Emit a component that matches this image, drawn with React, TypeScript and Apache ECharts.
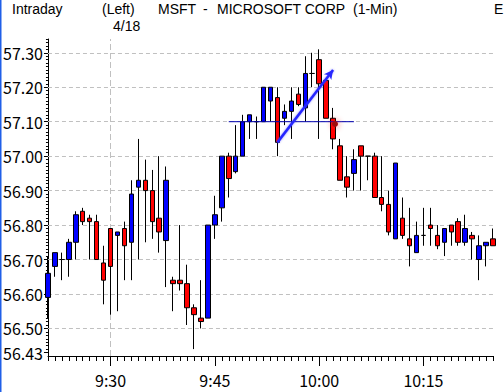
import React, { useEffect, useRef } from 'react';
import * as echarts from 'echarts';

const times = [
  '9:21', '9:22', '9:23', '9:24', '9:25', '9:26', '9:27', '9:28', '9:29', '9:30',
  '9:31', '9:32', '9:33', '9:34', '9:35', '9:36', '9:37', '9:38', '9:39', '9:40',
  '9:41', '9:42', '9:43', '9:44', '9:45', '9:46', '9:47', '9:48', '9:49', '9:50',
  '9:51', '9:52', '9:53', '9:54', '9:55', '9:56', '9:57', '9:58', '9:59', '10:00',
  '10:01', '10:02', '10:03', '10:04', '10:05', '10:06', '10:07', '10:08', '10:09', '10:10',
  '10:11', '10:12', '10:13', '10:14', '10:15', '10:16', '10:17', '10:18', '10:19', '10:20',
  '10:21', '10:22', '10:23', '10:24', '10:25',
];

const opens = [
  56.59, 56.68, 56.70, 56.70, 56.75, 56.84, 56.82, 56.81, 56.69, 56.79,
  56.77, 56.79, 56.75, 56.91, 56.93, 56.90, 56.82, 56.755, 56.64, 56.64,
  56.63, 56.56, 56.53, 56.53, 56.80, 56.85, 57.00, 56.955, 57.00, 57.10,
  57.10, 57.10, 57.16, 57.17, 57.11, 57.13, 57.18, 57.14, 57.24, 57.28,
  57.22, 57.11, 57.03, 56.94, 56.95, 57.03, 57.00, 57.00, 56.88, 56.86,
  56.76, 56.82, 56.76, 56.72, 56.77, 56.80, 56.77, 56.75, 56.80, 56.81,
  56.75, 56.77, 56.70, 56.74, 56.76,
];
const closes = [
  56.66, 56.72, 56.70, 56.75, 56.83, 56.81, 56.81, 56.70, 56.64, 56.68,
  56.78, 56.74, 56.89, 56.93, 56.90, 56.81, 56.78, 56.93, 56.63, 56.63,
  56.56, 56.54, 56.52, 56.80, 56.83, 57.00, 56.935, 57.00, 57.10, 57.12,
  57.10, 57.20, 57.20, 57.04, 57.13, 57.16, 57.15, 57.24, 57.24, 57.21,
  57.11, 57.05, 56.93, 56.91, 56.99, 57.00, 57.00, 56.88, 56.86, 56.78,
  56.98, 56.77, 56.74, 56.77, 56.77, 56.79, 56.74, 56.79, 56.78, 56.75,
  56.79, 56.76, 56.74, 56.75, 56.74,
];
const lows = [
  56.53, 56.65, 56.64, 56.65, 56.70, 56.80, 56.70, 56.70, 56.57, 56.54,
  56.55, 56.64, 56.64, 56.70, 56.75, 56.76, 56.72, 56.62, 56.55, 56.61,
  56.51, 56.44, 56.50, 56.53, 56.76, 56.81, 56.88, 56.95, 57.00, 57.05,
  57.05, 57.10, 57.10, 57.00, 57.09, 57.05, 57.145, 57.10, 57.20, 57.05,
  57.11, 57.02, 56.93, 56.88, 56.90, 56.90, 56.93, 56.88, 56.84, 56.77,
  56.76, 56.76, 56.68, 56.72, 56.74, 56.74, 56.73, 56.71, 56.74, 56.74,
  56.74, 56.70, 56.64, 56.68, 56.74,
];
const highs = [
  56.71, 56.72, 56.72, 56.76, 56.84, 56.85, 56.83, 56.83, 56.74, 56.79,
  56.78, 56.81, 56.93, 57.05, 56.99, 56.96, 57.00, 56.97, 56.65, 56.80,
  56.685, 56.57, 56.64, 56.80, 56.885, 57.00, 57.01, 57.09, 57.12, 57.12,
  57.115, 57.20, 57.20, 57.20, 57.15, 57.20, 57.20, 57.29, 57.30, 57.31,
  57.22, 57.14, 57.05, 57.00, 57.02, 57.03, 57.00, 57.01, 57.00, 56.90,
  56.98, 56.88, 56.85, 56.81, 56.85, 56.85, 56.80, 56.79, 56.80, 56.82,
  56.83, 56.78, 56.77, 56.75, 56.79,
];

const yLabelValues = [56.43, 56.5, 56.6, 56.7, 56.8, 56.9, 57.0, 57.1, 57.2, 57.3];
const gridValues = [56.5, 56.6, 56.7, 56.8, 56.9, 57.0, 57.1, 57.2, 57.3];
const majorTimes = ['9:30', '9:45', '10:00', '10:15'];
const sessionLineTime = '9:30';
const trendStart: [string, number] = ['9:54', 57.04];
const trendEnd: [string, number] = ['10:02', 57.25];
const hLineTimes = ['9:47', '10:05'];
const hLineValue = 57.1;

const Y_MIN = 56.42;
const Y_MAX = 57.34;

const FONT = "'Noto Sans CJK JP', 'Noto Sans', sans-serif";
const HEAD_FONT = "'Liberation Sans', Arial, sans-serif";

export default function App() {
  const ref = useRef<HTMLDivElement>(null);

  useEffect(() => {
    if (!ref.current) return;
    const chart = echarts.init(ref.current, undefined, { renderer: 'svg' });

    const minorTicks: number[] = [];
    for (let k = Math.round(Y_MIN * 100) + 1; k <= Math.round(Y_MAX * 100); k++) {
      minorTicks.push(k / 100);
    }

    const candleData = times.map((_, i) => [opens[i], closes[i], lows[i], highs[i]]);
    const idx = (t: string) => times.indexOf(t);

    const headText = (text: string, x: number, y: number) => ({
      type: 'text',
      x,
      y,
      z: 10,
      style: {
        text,
        font: `14px ${HEAD_FONT}`,
        lineHeight: 14,
        fill: '#000',
        verticalAlign: 'middle',
      },
    });

    const option: any = {
      animation: false,
      backgroundColor: '#ffffff',
      grid: { left: 44, right: 11, top: 39, bottom: 36 },
      xAxis: [
        {
          type: 'category',
          data: times,
          boundaryGap: false,
          axisLine: { show: true, lineStyle: { color: '#000', width: 1 } },
          axisTick: { show: true, interval: 0, length: 5, lineStyle: { color: '#000', width: 1 } },
          axisLabel: {
            interval: (_i: number, v: string) => majorTimes.includes(v),
            color: '#000',
            fontSize: 16,
            fontFamily: FONT,
            margin: 16,
          },
          splitLine: { show: false },
        },
        {
          type: 'category',
          data: times,
          boundaryGap: false,
          position: 'bottom',
          axisLine: { show: false },
          axisTick: {
            show: true,
            interval: (_i: number, v: string) => majorTimes.includes(v),
            length: 10,
            lineStyle: { color: '#000', width: 1 },
          },
          axisLabel: { show: false },
          splitLine: { show: false },
        },
      ],
      yAxis: [
        {
          type: 'value',
          min: Y_MIN,
          max: Y_MAX,
          position: 'left',
          axisLine: { show: true, lineStyle: { color: '#000', width: 1 } },
          axisTick: { show: true, length: 4, customValues: yLabelValues, lineStyle: { color: '#000' } },
          axisLabel: {
            customValues: yLabelValues,
            formatter: (v: number) => v.toFixed(2),
            color: '#000',
            fontSize: 16,
            fontFamily: FONT,
            margin: 5,
          },
          splitLine: { show: false },
        },
        {
          type: 'value',
          min: Y_MIN,
          max: Y_MAX,
          position: 'left',
          axisLine: { show: false },
          axisTick: { show: true, length: 2, customValues: minorTicks, lineStyle: { color: '#000' } },
          axisLabel: { show: false },
          splitLine: { show: false },
        },
      ],
      series: [
        {
          type: 'line',
          data: times.map(() => null),
          symbol: 'none',
          silent: true,
          markLine: {
            silent: true,
            z: 1,
            symbol: ['none', 'none'],
            label: { show: false },
            lineStyle: { color: '#c0c0c0', width: 1, type: [4, 3] },
            data: [
              ...gridValues.map((v) => ({ yAxis: v })),
              { xAxis: idx(sessionLineTime), lineStyle: { color: '#c0c0c0', width: 1, type: [6, 3] } },
            ],
          },
        },
        {
          type: 'candlestick',
          data: candleData,
          barWidth: 5,
          z: 3,
          itemStyle: {
            color: '#0000ff',
            color0: '#ff0000',
            borderColor: '#000',
            borderColor0: '#000',
            borderColorDoji: '#000',
            borderWidth: 1,
          },
          markLine: {
            silent: true,
            label: { show: false },
            data: [
              [
                { coord: [idx(trendStart[0]), trendStart[1]], symbol: 'none' },
                {
                  coord: [idx(trendEnd[0]), trendEnd[1]],
                  symbol: 'arrow',
                  symbolSize: [7, 9],
                },
              ],
            ],
            lineStyle: {
              color: '#2828ff',
              width: 2.5,
              type: 'solid',
              shadowBlur: 2,
              shadowColor: 'rgba(60,60,255,0.6)',
            },
          },
        },
        {
          type: 'line',
          data: hLineTimes.map((t) => [idx(t), hLineValue]),
          symbol: 'none',
          silent: true,
          z: 4,
          lineStyle: { color: '#0000b0', width: 1 },
        },
      ],
      graphic: [
        { type: 'rect', left: 0, top: 0, shape: { width: 1.5, height: 392 }, style: { fill: '#1f5fe8' } },
        headText('Intraday', 12, 8.5),
        headText('(Left)', 102, 8.5),
        headText('4/18', 113, 25.5),
        headText('MSFT', 158, 8.5),
        headText('-', 203, 8.5),
        headText('MICROSOFT CORP', 217, 8.5),
        headText('(1-Min)', 353, 8.5),
        headText('E', 494, 8.5),
        {
          type: 'circle',
          shape: { cx: 335, cy: 124, r: 3 },
          style: { fill: '#a01010', shadowBlur: 6, shadowColor: 'rgba(255,40,40,0.9)' },
          z: 10,
        },
      ],
    };

    chart.setOption(option);
    return () => chart.dispose();
  }, []);

  return (
    <div
      ref={ref}
      style={{ position: 'absolute', left: 0, top: 0, width: 504, height: 392, background: '#fff' }}
    />
  );
}
